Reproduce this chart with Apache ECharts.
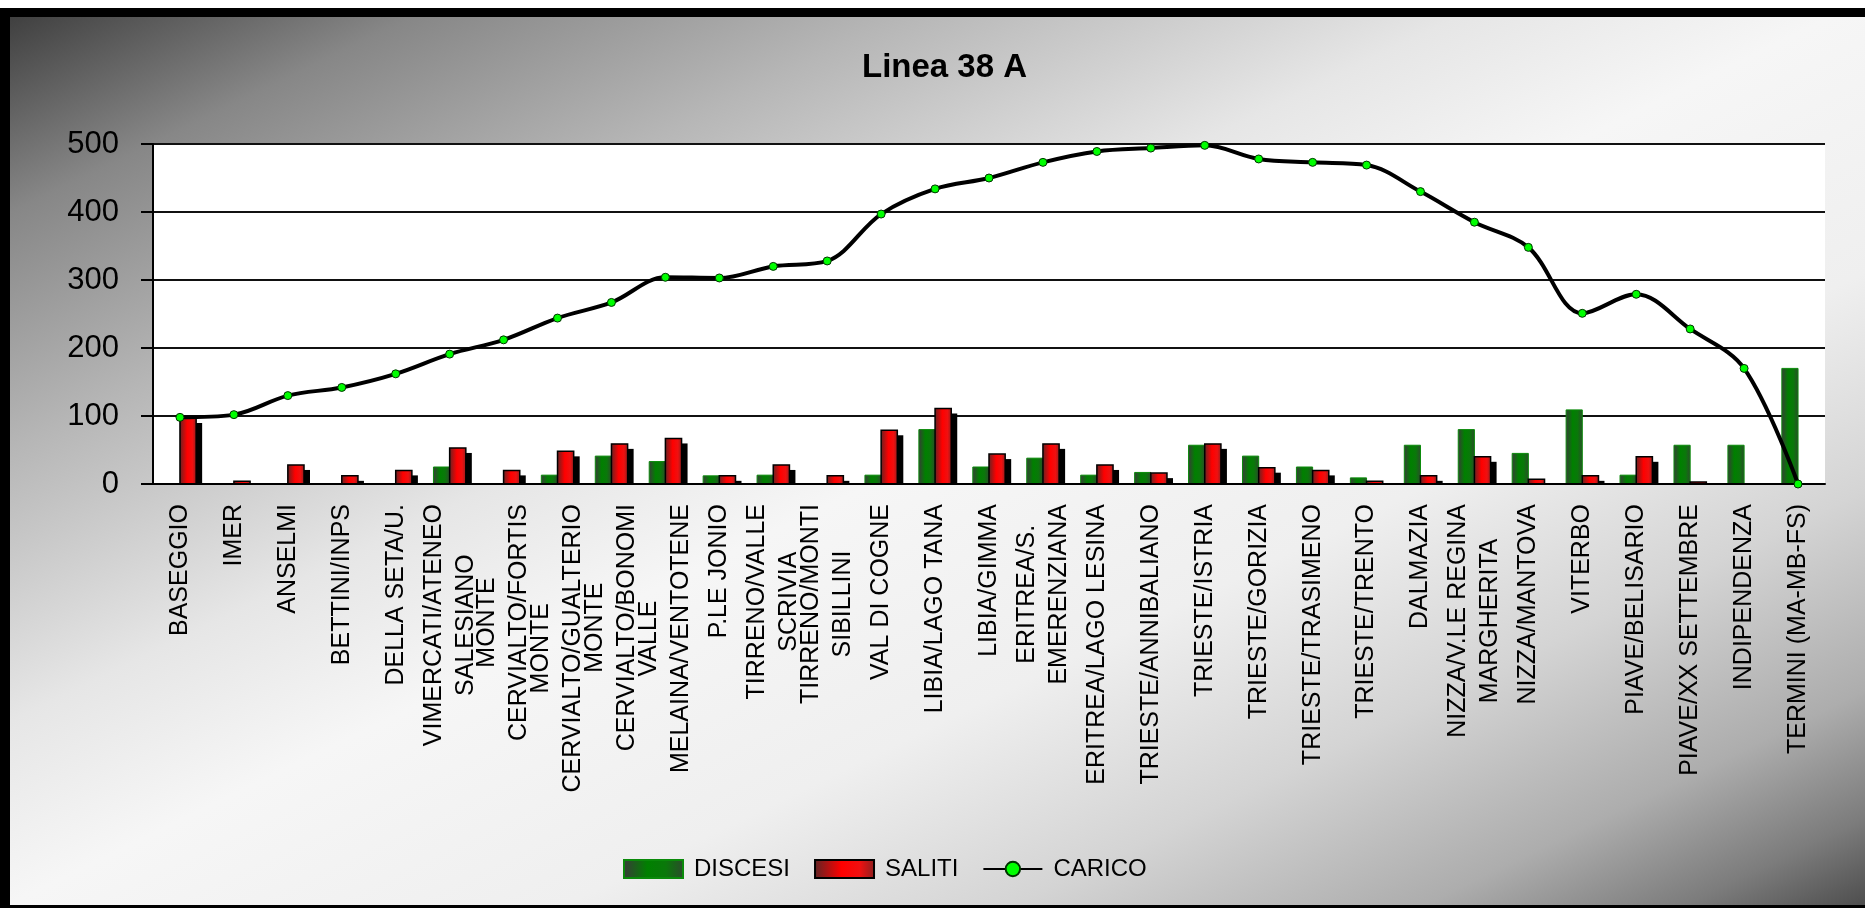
<!DOCTYPE html>
<html>
<head>
<meta charset="utf-8">
<title>Linea 38 A</title>
<script src="https://cdn.jsdelivr.net/npm/echarts@6.0.0/dist/echarts.min.js"></script>
<style>
  html, body { margin: 0; padding: 0; }
  #chart { width: 1865px; height: 908px; }
</style>
</head>
<body>
<div id="chart"></div>
<script>
// fermate della linea (asse x), righe separate con \n come nel grafico
const fermate = [
  'BASEGGIO', 'IMER', 'ANSELMI', 'BETTINI/INPS', 'DELLA SETA/U.',
  'VIMERCATI/ATENEO\nSALESIANO', 'MONTE\nCERVIALTO/FORTIS', 'MONTE\nCERVIALTO/GUALTERIO',
  'MONTE\nCERVIALTO/BONOMI', 'VALLE\nMELAINA/VENTOTENE', 'P.LE JONIO',
  'TIRRENO/VALLE\nSCRIVIA', 'TIRRENO/MONTI\nSIBILLINI', 'VAL DI COGNE', 'LIBIA/LAGO TANA',
  'LIBIA/GIMMA', 'ERITREA/S.\nEMERENZIANA', 'ERITREA/LAGO LESINA', 'TRIESTE/ANNIBALIANO',
  'TRIESTE/ISTRIA', 'TRIESTE/GORIZIA', 'TRIESTE/TRASIMENO', 'TRIESTE/TRENTO', 'DALMAZIA',
  'NIZZA/V.LE REGINA\nMARGHERITA', 'NIZZA/MANTOVA', 'VITERBO', 'PIAVE/BELISARIO',
  'PIAVE/XX SETTEMBRE', 'INDIPENDENZA', 'TERMINI (MA-MB-FS)'
];

const discesi = [0, 0, 0, 0, 0, 25, 0, 13, 41, 33, 12, 13, 0, 13, 80, 25, 38, 13, 17, 57, 41, 25, 9, 57, 80, 45, 109, 13, 57, 57, 170];
const saliti  = [97, 4, 28, 12, 20, 53, 20, 48, 59, 67, 12, 28, 12, 79, 111, 44, 59, 28, 16, 59, 24, 20, 4, 12, 40, 7, 12, 40, 3, 0, 0];
const carico  = [98, 102, 130, 142, 162, 191, 212, 244, 267, 304, 303, 320, 328, 397, 434, 450, 473, 489, 494, 498, 478, 473, 469, 430, 385, 348, 251, 279, 228, 170, 0];

// asse y
const yMin = 0;
const yMax = 500;
const yStep = 100;

const font = '"Liberation Sans", Arial, sans-serif';

const chart = echarts.init(document.getElementById('chart'));

// sfondo: scuro in alto a sinistra e in basso a destra, chiaro sulla diagonale
const sfondo = {
  type: 'linear', x: 0, y: 0, x2: 0.383, y2: 1.617,
  colorStops: [
    { offset: 0, color: '#383838' },
    { offset: 0.12, color: '#878787' },
    { offset: 0.25, color: '#b6b6b6' },
    { offset: 0.4, color: '#e6e6e6' },
    { offset: 0.5, color: '#f6f6f6' },
    { offset: 0.65, color: '#efefef' },
    { offset: 0.77, color: '#d4d4d4' },
    { offset: 0.88, color: '#adadad' },
    { offset: 0.95, color: '#7c7c7c' },
    { offset: 1, color: '#4c4c4c' }
  ]
};

const verde = {
  type: 'linear', x: 0, y: 0, x2: 1, y2: 0,
  colorStops: [
    { offset: 0, color: '#3a3a3a' },
    { offset: 0.4, color: '#008000' },
    { offset: 0.7, color: '#0a780a' },
    { offset: 1, color: '#2c4a2c' }
  ]
};

const rosso = {
  type: 'linear', x: 0, y: 0, x2: 1, y2: 0,
  colorStops: [
    { offset: 0, color: '#5c2525' },
    { offset: 0.45, color: '#ff0000' },
    { offset: 0.75, color: '#f01010' },
    { offset: 1, color: '#8a2020' }
  ]
};

// barra affiancata: side -1 a sinistra del centro categoria, +1 a destra
// l'ombra nera (solo SALITI) si ferma alla linea dello zero come nel grafico Excel
function barra(side, style, ombra) {
  return function (params, api) {
    const v = api.value(1);
    if (!v) return null;
    const base = api.coord([api.value(0), 0]);
    const top = api.coord([api.value(0), v]);
    const w = api.size([1, 0])[0] * 0.3;
    const x = side < 0 ? base[0] - w : base[0];
    const h = base[1] - top[1];
    const children = [];
    if (ombra) {
      children.push({
        type: 'rect',
        shape: { x: x + 6, y: top[1] + 5, width: w, height: Math.max(h - 5, 0) },
        style: { fill: '#000' }
      });
    }
    children.push({
      type: 'rect',
      shape: { x: x, y: top[1], width: w, height: h },
      style: style
    });
    return { type: 'group', children: children };
  };
}

const option = {
  animation: false,
  backgroundColor: sfondo,
  title: {
    text: 'Linea 38 A',
    left: 862,
    top: 51,
    padding: 0,
    textStyle: { fontFamily: font, fontSize: 33, fontWeight: 'bold', color: '#000' }
  },
  legend: {
    left: 618,
    top: 852,
    itemWidth: 59,
    itemHeight: 18,
    itemGap: 24,
    textStyle: { fontFamily: font, fontSize: 24, color: '#000', padding: [0, 0, 0, 6] },
    data: [
      { name: 'DISCESI', icon: 'rect' },
      { name: 'SALITI', icon: 'rect' },
      { name: 'CARICO' }
    ]
  },
  grid: {
    left: 153,
    right: 40,
    top: 144,
    bottom: 424,
    show: true,
    backgroundColor: '#ffffff',
    borderWidth: 0,
    outerBoundsMode: 'none'
  },
  xAxis: {
    type: 'category',
    data: fermate,
    z: 4,
    axisLine: { lineStyle: { color: '#000', width: 2 } },
    axisTick: { length: 10, lineStyle: { color: '#000', width: 2 } },
    axisLabel: {
      interval: 0,
      rotate: 90,
      margin: 20,
      fontFamily: font,
      fontSize: 25,
      lineHeight: 32,
      color: '#000',
      // righe centrate tra loro, blocco allineato all'asse
      formatter: v => v.split('\n').map(s => '{c|' + s + '}').join('\n'),
      rich: {
        c: { align: 'center', fontFamily: font, fontSize: 25, lineHeight: 32, color: '#000' }
      }
    }
  },
  yAxis: {
    type: 'value',
    min: yMin,
    max: yMax,
    interval: yStep,
    axisLine: { show: true, lineStyle: { color: '#000', width: 2 } },
    axisTick: { show: true, length: 12, lineStyle: { color: '#000', width: 2 } },
    splitLine: { lineStyle: { color: '#111', width: 2 } },
    axisLabel: { fontFamily: font, fontSize: 31, color: '#000', margin: 34 }
  },
  graphic: [
    { type: 'rect', shape: { x: 0, y: 0, width: 1865, height: 8 }, style: { fill: '#ffffff' } },
    { type: 'rect', shape: { x: 0, y: 8, width: 1865, height: 9 }, style: { fill: '#000' } },
    { type: 'rect', shape: { x: 0, y: 8, width: 10, height: 900 }, style: { fill: '#000' } },
    { type: 'rect', shape: { x: 0, y: 905, width: 1865, height: 3 }, style: { fill: '#000' } }
  ],
  series: [
    {
      name: 'DISCESI',
      type: 'custom',
      renderItem: barra(-1, { fill: verde, stroke: '#0a8a0a', lineWidth: 1 }, false),
      itemStyle: { color: verde, borderColor: '#0a8a0a', borderWidth: 2 },
      encode: { x: 0, y: 1 },
      data: discesi.map((v, i) => [i, v])
    },
    {
      name: 'SALITI',
      type: 'custom',
      renderItem: barra(1, { fill: rosso, stroke: '#000', lineWidth: 1.5 }, true),
      itemStyle: { color: rosso, borderColor: '#000', borderWidth: 2 },
      encode: { x: 0, y: 1 },
      data: saliti.map((v, i) => [i, v])
    },
    {
      name: 'CARICO',
      type: 'line',
      smooth: 0.35,
      symbol: 'circle',
      symbolSize: 8,
      z: 5,
      lineStyle: { color: '#000', width: 4 },
      itemStyle: { color: '#00ff00', borderColor: '#003300', borderWidth: 1 },
      data: carico
    }
  ]
};

chart.setOption(option);
</script>
</body>
</html>
